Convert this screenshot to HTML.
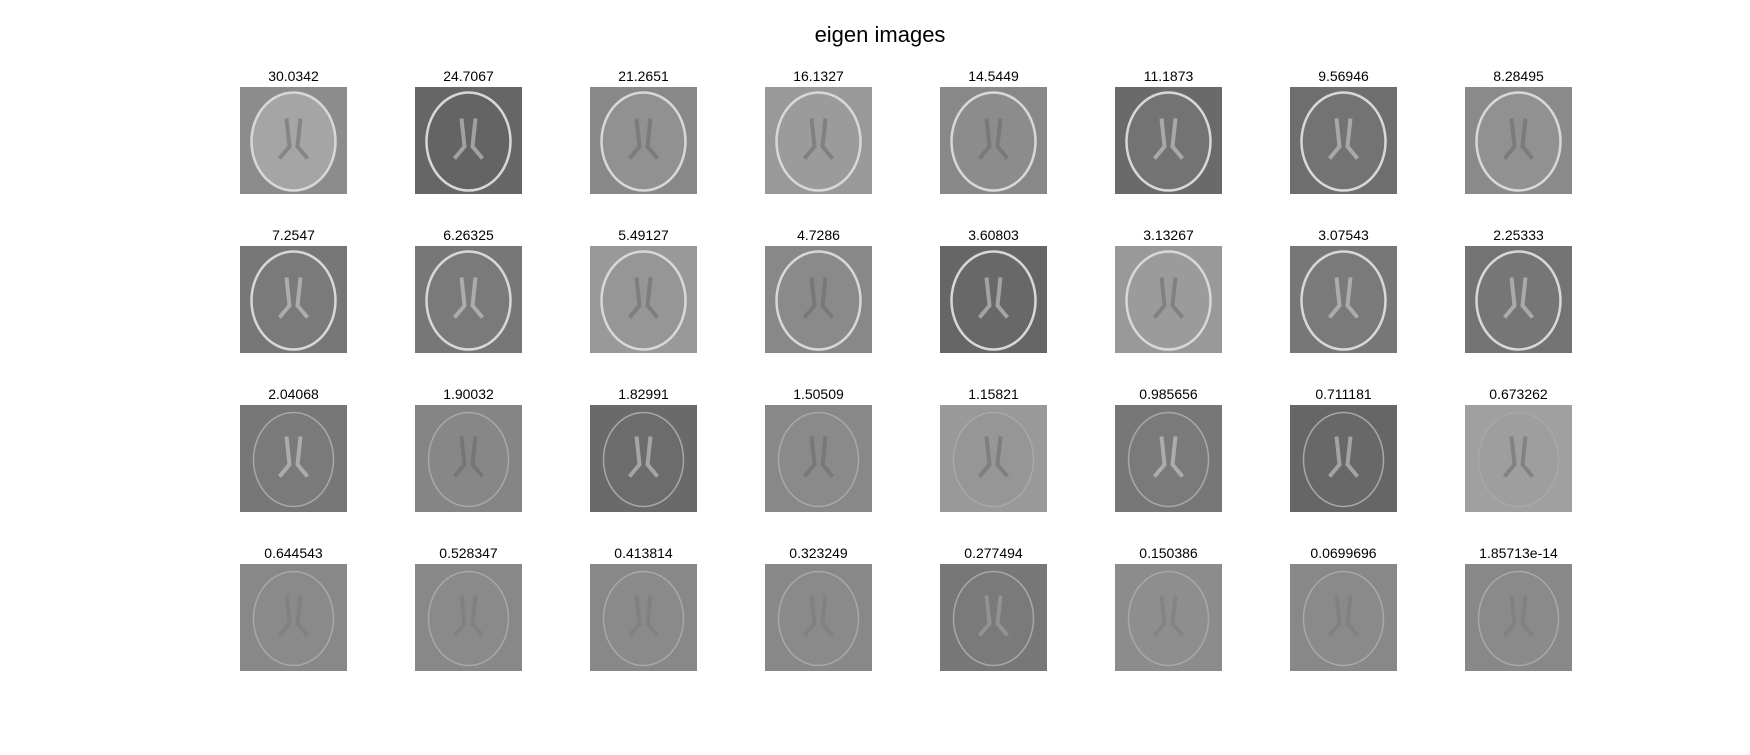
<!DOCTYPE html>
<html><head><meta charset="utf-8">
<style>
html,body{margin:0;padding:0;background:#fff;}
body{width:1750px;height:750px;position:relative;overflow:hidden;font-family:"Liberation Sans",Arial,sans-serif;}
</style></head>
<body>
<svg id="fig" width="1750" height="750" xmlns="http://www.w3.org/2000/svg">
<text x="880" y="42" text-anchor="middle" font-size="22" font-family="Liberation Sans, Arial, sans-serif" fill="#000">eigen images</text>
</svg>
<script>
const labels = [
"30.0342","24.7067","21.2651","16.1327","14.5449","11.1873","9.56946","8.28495",
"7.2547","6.26325","5.49127","4.7286","3.60803","3.13267","3.07543","2.25333",
"2.04068","1.90032","1.82991","1.50509","1.15821","0.985656","0.711181","0.673262",
"0.644543","0.528347","0.413814","0.323249","0.277494","0.150386","0.0699696","1.85713e-14"];
const bgGray = [
140,102,136,153,136,106,110,138,
119,119,153,136,102,153,119,115,
119,133,106,136,153,119,102,160,
136,136,136,136,119,140,136,136];
const brainGray = [
165,100,145,155,140,115,115,145,
122,122,150,138,104,155,122,118,
122,135,108,138,150,122,104,158,
138,138,138,138,122,142,138,138];
const svg = document.getElementById('fig');
const NS = 'http://www.w3.org/2000/svg';
const x0 = 240, y0 = 87, dx = 175, dy = 159, sz = 107;
for (let i = 0; i < labels.length; i++) {
  const c = i % 8, r = Math.floor(i / 8);
  const x = x0 + c * dx, y = y0 + r * dy;
  const g = document.createElementNS(NS, 'g');
  
  
  const rect = document.createElementNS(NS, 'rect');
  
  
  rect.setAttribute('x', x); rect.setAttribute('y', y);
  rect.setAttribute('width', sz); rect.setAttribute('height', sz);
  const b = bgGray[i];
  rect.setAttribute('fill', `rgb(${b},${b},${b})`);
  g.appendChild(rect);
  const e = document.createElementNS(NS, 'ellipse');
  
  
  e.setAttribute('cx', x + sz / 2); e.setAttribute('cy', y + sz / 2 + 1);
  e.setAttribute('rx', r < 2 ? 42 : 40); e.setAttribute('ry', r < 2 ? 49 : 47);
  const bg = brainGray[i];
  e.setAttribute('fill', `rgb(${bg},${bg},${bg})`);
  e.setAttribute('stroke', r < 2 ? '#d8d8d8' : '#a8a8a8');
  e.setAttribute('stroke-width', r < 2 ? 2.5 : 1.5);
  g.appendChild(e);
  const v = document.createElementNS(NS, 'path');
  
  
  const cx = x + sz / 2, cy = y + sz / 2;
  v.setAttribute('d', `M${cx-7},${cy-22} L${cx-4},${cy+6} L${cx-14},${cy+18} M${cx+7},${cy-22} L${cx+4},${cy+6} L${cx+14},${cy+18}`);
  v.setAttribute('stroke', bg > 130 ? '#666' : '#dddddd');
  v.setAttribute('stroke-width', 4);
  v.setAttribute('fill', 'none');
  v.setAttribute('opacity', r < 3 ? 0.5 : 0.25);
  g.appendChild(v);
  const t = document.createElementNS(NS, 'text');
  
  
  t.setAttribute('x', x + sz / 2); t.setAttribute('y', y - 6);
  t.setAttribute('text-anchor', 'middle');
  t.setAttribute('font-size', '14');
  t.setAttribute('font-family', 'Liberation Sans, Arial, sans-serif');
  t.textContent = labels[i];
  g.appendChild(t);
  svg.appendChild(g);
}
</script>
</body></html>
